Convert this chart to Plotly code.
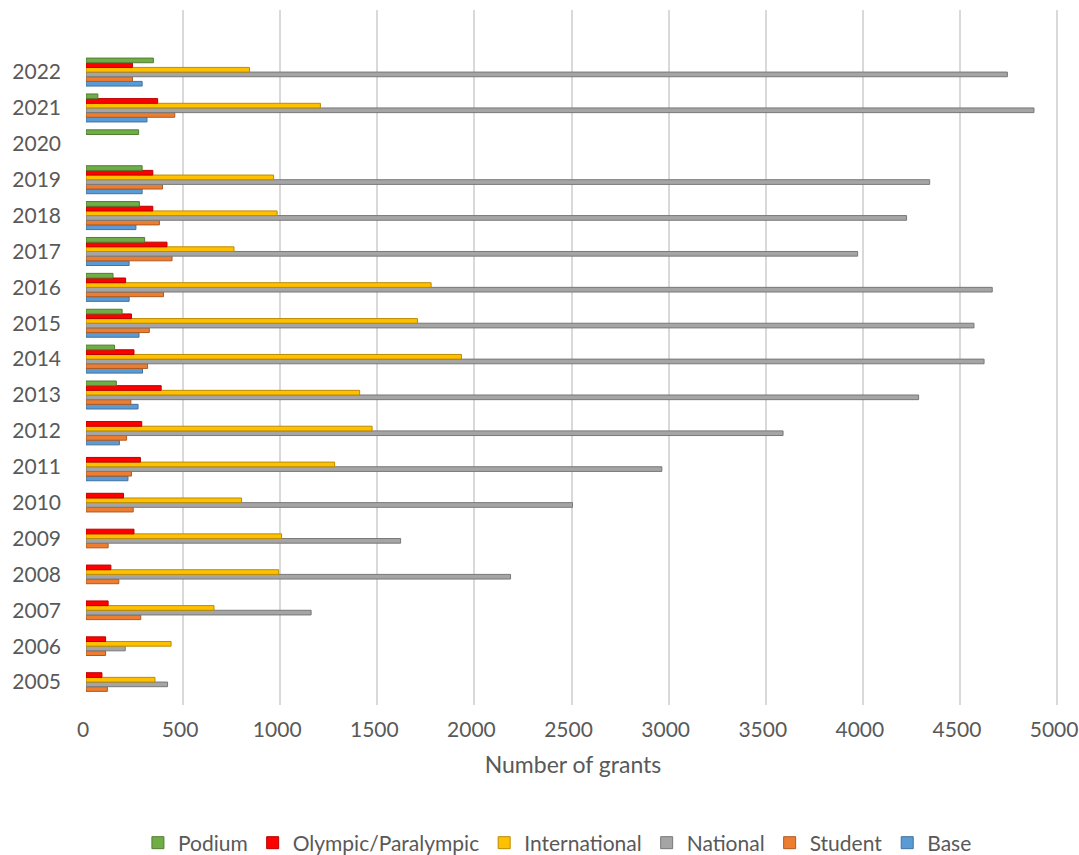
import plotly.graph_objects as go

years = [str(y) for y in range(2005, 2023)]

# values per year 2005..2022 (None = no bar)
podium = [None, None, None, None, None, None, None, None, 156, 147, 186, 139, 302, 275, 289, 271, 61, 347]
olympic = [82, 101, 114, 128, 247, 193, 280, 287, 387, 247, 234, 204, 417, 344, 344, None, 369, 239]
international = [355, 438, 659, 992, 1007, 801, 1280, 1473, 1409, 1933, 1707, 1777, 762, 984, 966, None, 1207, 842]
national = [420, 202, 1159, 2186, 1620, 2505, 2965, 3589, 4287, 4624, 4572, 4666, 3973, 4225, 4344, None, 4881, 4744]
student = [110, 101, 282, 169, 114, 243, 234, 209, 231, 317, 326, 399, 443, 378, 394, None, 457, 239]
base = [None, None, None, None, None, None, 216, 172, 268, 291, 273, 222, 222, 257, 289, None, 314, 289]

series = [
    ("Base", base, "#5B9BD5", "#41719C"),
    ("Student", student, "#ED7D31", "#AE5A21"),
    ("National", national, "#A5A5A5", "#787878"),
    ("International", international, "#FFC000", "#BC8C00"),
    ("Olympic/Paralympic", olympic, "#FF0000", "#BB0000"),
    ("Podium", podium, "#70AD47", "#507E32"),
]

fig = go.Figure()
for name, vals, col, edge in series:
    fig.add_trace(go.Bar(
        y=years, x=vals, name=name, orientation="h",
        marker=dict(color=col, line=dict(color=edge, width=1)),
    ))

font = "Lato, Carlito, Calibri, sans-serif"
fig.update_layout(
    width=1079, height=855,
    margin=dict(l=86, r=19, t=10, b=150, autoexpand=False),
    paper_bgcolor="white", plot_bgcolor="white",
    barmode="group", bargap=0.22, bargroupgap=0,
    font=dict(family=font, size=21, color="#595959"),
    legend=dict(orientation="h", xref="paper", x=0.484, xanchor="center",
                yref="container", y=0.014, yanchor="middle",
                traceorder="reversed", font=dict(size=21, color="#595959"),
                itemwidth=30),
    xaxis=dict(range=[0, 5015], tickvals=list(range(0, 5001, 500)), showgrid=True,
               gridcolor="#D9D9D9", gridwidth=2,
               zeroline=False, showline=False, ticks="", ticklabelstandoff=10, automargin=False,
               ticklabeloverflow="allow", ticklabelshift=-3,
               title=dict(text="Number of grants", standoff=16, font=dict(size=23, color="#595959"))),
    yaxis=dict(type="category", range=[-0.64, 18.73], showgrid=False, zeroline=False,
               showline=False, ticks="", ticklabelstandoff=24, automargin=False),
)

fig.write_html("out.html")
